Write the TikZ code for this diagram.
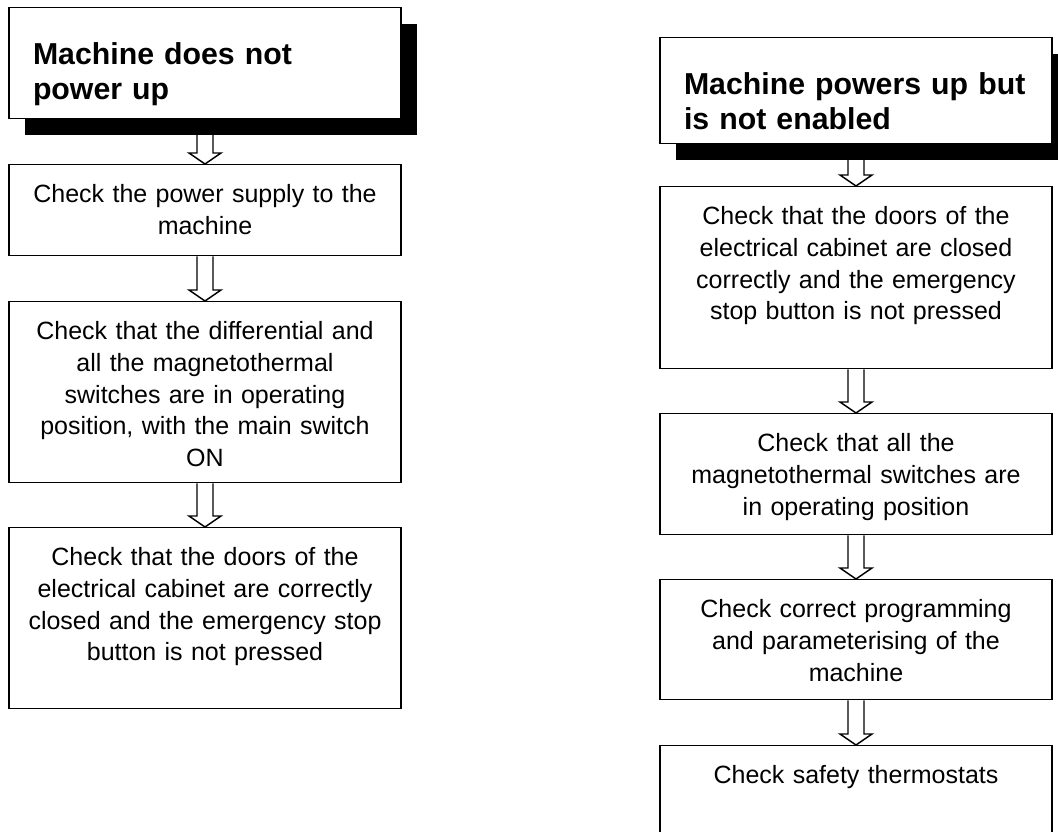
\documentclass[tikz,border=0pt]{standalone}
\usepackage{fontspec}
\setmainfont{Liberation Sans}
\usetikzlibrary{calc,shadows}

\newlength\dpx
\setlength\dpx{0.75pt}

\tikzset{
  stepbox/.style={draw, line width=1.1pt, fill=white, anchor=north,
    inner xsep=10\dpx, inner ysep=0pt, text width=372\dpx, align=center,
    text height=38\dpx, font=\fontsize{18.75pt}{23.8pt}\selectfont},
  faultbox/.style={stepbox, inner xsep=24\dpx, text width=344\dpx, align=left,
    text height=57\dpx, font=\fontsize{22.7pt}{26.25pt}\selectfont\bfseries,
    drop shadow={shadow xshift=12pt, shadow yshift=-12pt, fill=black, opacity=1}},
  hollow/.style={line width=1.1pt, to path={
    let \p1=(\tikztostart.south), \p2=(\tikztotarget.north) in
    (\x1-6pt,\y1) -- (\x1-6pt,\y2+8.25pt) -- (\x1-12pt,\y2+8.25pt) -- (\x1,\y2)
    -- (\x1+12pt,\y2+8.25pt) -- (\x1+6pt,\y2+8.25pt) -- (\x1+6pt,\y1)}}
}

\begin{document}
\begin{tikzpicture}[x=0.75pt,y=-0.75pt]

\useasboundingbox (0,0) rectangle (1058,832);
\clip (0,0) rectangle (1058,832);

% machine does not power up
\node[faultbox, text depth=54\dpx] (nopower) at (205,7) {Machine does not\\power up};
\node[stepbox, text depth=53\dpx] (supply) at (205,164) {Check the power supply to the\\machine};
\node[stepbox, text depth=143\dpx] (switches) at (205,301) {Check that the differential and\\all the magnetothermal\\switches are in operating\\position, with the main switch\\ON};
\node[stepbox, text depth=143\dpx] (doors) at (205,527) {Check that the doors of the\\electrical cabinet are correctly\\closed and the emergency stop\\button is not pressed};

\draw[hollow] (nopower) to (supply);
\draw[hollow] (supply) to (switches);
\draw[hollow] (switches) to (doors);

% machine powers up but is not enabled
\node[faultbox, text depth=49\dpx] (noenable) at (856,37) {Machine powers up but\\is not enabled};
\node[stepbox, text depth=144\dpx] (cabinet) at (856,186) {Check that the doors of the\\electrical cabinet are closed\\correctly and the emergency\\stop button is not pressed};
\node[stepbox, text depth=83\dpx] (breakers) at (856,413) {Check that all the\\magnetothermal switches are\\in operating position};
\node[stepbox, text depth=82\dpx] (program) at (856,579) {Check correct programming\\and parameterising of the\\machine};
\node[stepbox, text depth=82\dpx] (thermo) at (856,745) {Check safety thermostats};

\draw[hollow] (noenable) to (cabinet);
\draw[hollow] (cabinet) to (breakers);
\draw[hollow] (breakers) to (program);
\draw[hollow] (program) to (thermo);

\end{tikzpicture}
\end{document}
